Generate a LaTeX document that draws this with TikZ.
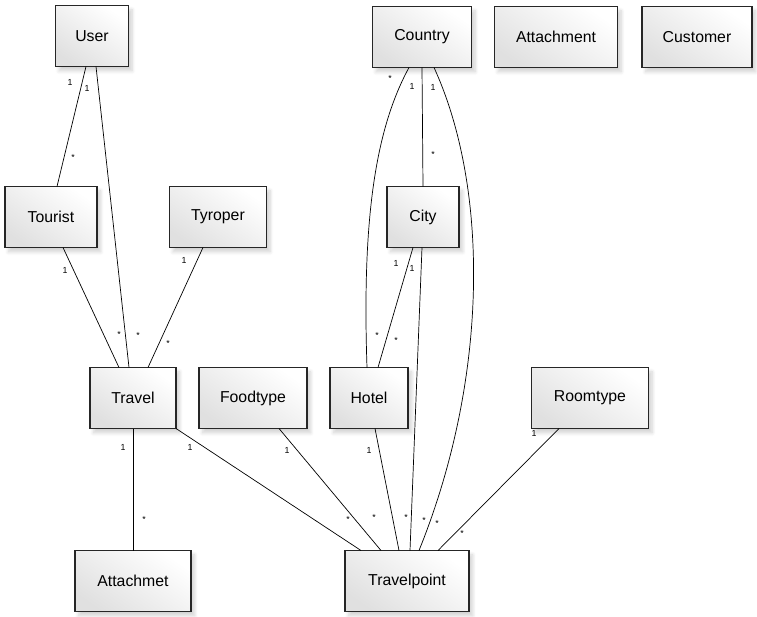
\documentclass[tikz,border=0pt]{standalone}
\usepackage{fontspec}
\setmainfont{Liberation Sans}
\usetikzlibrary{calc,shadows.blur}

\begin{document}
\begin{tikzpicture}[x=0.02cm,y=-0.02cm,
        classnode/.style={rectangle, draw=black!85, semithick, top color=white, bottom color=black!12, shading angle=-35,
            blur shadow={shadow xshift=2pt, shadow yshift=-2.5pt, shadow blur steps=8, shadow opacity=18},
            minimum width=#1*0.02cm, minimum height=1.22cm, inner sep=0pt, outer sep=0pt, font=\small},
        mult/.style={font=\tiny, inner sep=0pt}]
        \useasboundingbox (0,0) rectangle (757,616);
        %Nodes
        \node[classnode=73]   (user)        at (92,36)   {User};
        \node[classnode=99]   (country)     at (422,37)  {Country};
        \node[classnode=123]  (attachment)  at (556,37)  {Attachment};
        \node[classnode=110]  (customer)    at (697,37)  {Customer};
        \node[classnode=92]   (tourist)     at (51,217)  {Tourist};
        \node[classnode=97]   (tyroper)     at (218,217) {Tyroper};
        \node[classnode=72]   (city)        at (423,217) {City};
        \node[classnode=86]   (travel)      at (133,398) {Travel};
        \node[classnode=108]  (foodtype)    at (253,398) {Foodtype};
        \node[classnode=78]   (hotel)       at (369,398) {Hotel};
        \node[classnode=117]  (roomtype)    at (590,398) {Roomtype};
        \node[classnode=116]  (attachmet)   at (133,581) {Attachmet};
        \node[classnode=124]  (travelpoint) at (407,581) {Travelpoint};
        %Lines
        \draw ($(user.south)+(-6,0)$) -- ($(tourist.north)+(6,0)$)
            node[mult, pos=0, shift={(-16,16)}] {1} node[mult, pos=1, shift={(16,-29)}] {*};
        \draw ($(user.south)+(4,0)$) -- ($(travel.north)+(-4,0)$)
            node[mult, pos=0, shift={(-9,22)}] {1} node[mult, pos=1, shift={(9,-32)}] {*};
        \draw ($(tourist.south)+(12,0)$) -- ($(travel.north)+(-14,0)$)
            node[mult, pos=0, shift={(2,23)}] {1} node[mult, pos=1, shift={(0,-33)}] {*};
        \draw ($(tyroper.south)+(-15,0)$) -- ($(travel.north)+(15,0)$)
            node[mult, pos=0, shift={(-19,13)}] {1} node[mult, pos=1, shift={(20,-24)}] {*};
        \draw (country.south) -- (city.north)
            node[mult, pos=0, shift={(-10,19)}] {1} node[mult, pos=1, shift={(10,-32)}] {*};
        \draw ($(country.south)+(-13,0)$) .. controls (375,130) and (362,220) .. ($(hotel.north)+(-2,0)$)
            node[mult, pos=0, shift={(-19,11)}] {*} node[mult, pos=1, shift={(10,-32)}] {*};
        \draw ($(country.south)+(12,0)$) .. controls (490,190) and (488,380) .. ($(travelpoint.north)+(12,0)$)
            node[mult, pos=0, shift={(-1,20)}] {1} node[mult, pos=1, shift={(18,-27)}] {*};
        \draw ($(city.south)+(-10,0)$) -- ($(hotel.north)+(9,0)$)
            node[mult, pos=0, shift={(-17,16)}] {1} node[mult, pos=1, shift={(18,-27)}] {*};
        \draw ($(city.south)+(-1,0)$) -- ($(travelpoint.north)+(3,0)$)
            node[mult, pos=0, shift={(-10,21)}] {1} node[mult, pos=1, shift={(14,-30)}] {*};
        \draw (travel.south) -- (attachmet.north)
            node[mult, pos=0, shift={(-10,19)}] {1} node[mult, pos=1, shift={(11,-31)}] {*};
        \draw (travel.south east) -- ($(travelpoint.north)+(-46,0)$)
            node[mult, pos=0, shift={(14,19)}] {1} node[mult, pos=1, shift={(-13,-31)}] {*};
        \draw ($(foodtype.south)+(26,0)$) -- ($(travelpoint.north)+(-26,0)$)
            node[mult, pos=0, shift={(8,22)}] {1} node[mult, pos=1, shift={(-7,-33)}] {*};
        \draw ($(hotel.south)+(6,0)$) -- ($(travelpoint.north)+(-8,0)$)
            node[mult, pos=0, shift={(-6,22)}] {1} node[mult, pos=1, shift={(7,-33)}] {*};
        \draw ($(roomtype.south)+(-31,0)$) -- ($(travelpoint.north)+(31,0)$)
            node[mult, pos=0, shift={(-25,5)}] {1} node[mult, pos=1, shift={(24,-17)}] {*};
\end{tikzpicture}
\end{document}
